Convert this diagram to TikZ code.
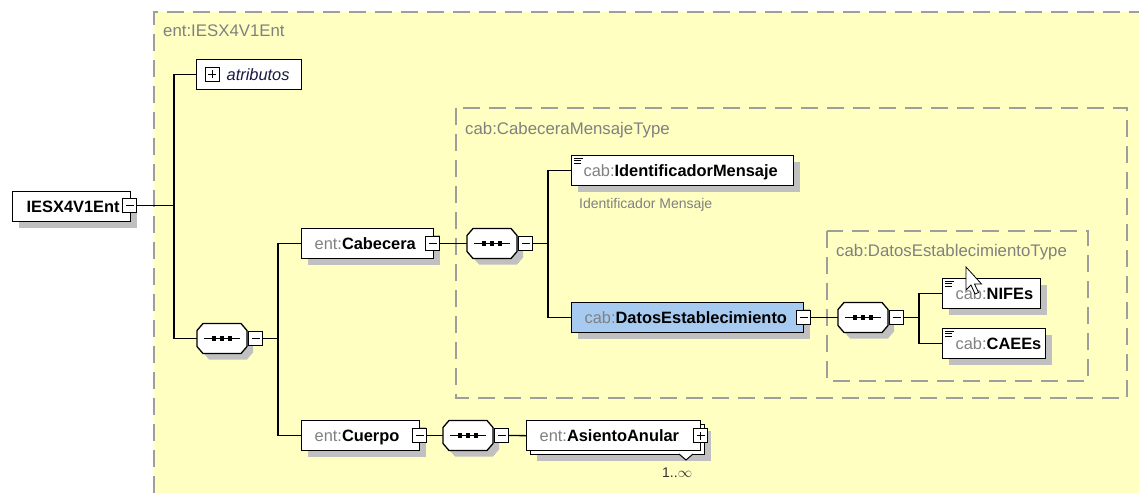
\documentclass[tikz,border=0pt]{standalone}
\usepackage{fontspec}
\setmainfont{Liberation Sans}
\usetikzlibrary{shadows}
\definecolor{bgyellow}{RGB}{255,255,194}
\definecolor{dashgray}{RGB}{158,158,158}
\definecolor{pfxgray}{RGB}{128,128,128}
\definecolor{titlegray}{RGB}{128,128,128}
\definecolor{shadowgray}{RGB}{192,192,192}
\definecolor{selblue}{RGB}{166,202,240}
\definecolor{attrnavy}{RGB}{25,25,70}
\newcommand\pfx[1]{{\color{pfxgray}\mdseries #1}}
\newcommand\elname[2]{\pfx{#1}\textbf{#2}}
\tikzset{
  conn/.style={line width=1.3pt, black},
  dashbox/.style={draw=dashgray, line width=1.3pt, dash pattern=on 17pt off 9pt},
  title/.style={anchor=base west, inner sep=0pt, text=titlegray, font=\fontsize{16.8}{19}\selectfont},
  elemplain/.style={draw=black, line width=1.3pt, fill=white, anchor=north west,
    minimum height=30pt, text height=11.5pt, text depth=0pt, inner ysep=0pt, inner xsep=0pt,
    align=left, font=\fontsize{16.4}{18}\selectfont},
  shadowed/.style={general shadow={fill=shadowgray, shadow xshift=6pt, shadow yshift=-6pt}},
  elem/.style={elemplain, shadowed},
  pmbase/.style={draw=black, line width=1pt, fill=white, minimum size=14pt, inner sep=0pt},
  pm/.style={pmbase,
    path picture={\draw[line width=1pt] ([xshift=3pt]path picture bounding box.west) -- ([xshift=-3pt]path picture bounding box.east);}},
  plus/.style={pmbase, path picture={
    \draw[line width=1pt] ([xshift=3pt]path picture bounding box.west) -- ([xshift=-3pt]path picture bounding box.east);
    \draw[line width=1pt] ([yshift=3pt]path picture bounding box.south) -- ([yshift=-3pt]path picture bounding box.north);}},
  seqbox/.style={rectangle, minimum width=50pt, minimum height=30pt, inner sep=0pt, outer sep=0pt},
  note/.style={anchor=base west, inner sep=0pt, text=pfxgray, font=\fontsize{14}{16}\selectfont},
}
% octagon outline for a sequence compositor, offset #2 right and down
\newcommand\octpath[2]{([xshift=6pt+#2,yshift=-#2]#1.north west) -- ([xshift=-6pt+#2,yshift=-#2]#1.north east)
  -- ([xshift=#2,yshift=-7pt-#2]#1.north east) -- ([xshift=#2,yshift=7pt-#2]#1.south east)
  -- ([xshift=-6pt+#2,yshift=-#2]#1.south east) -- ([xshift=6pt+#2,yshift=-#2]#1.south west)
  -- ([xshift=#2,yshift=7pt-#2]#1.south west) -- ([xshift=#2,yshift=-7pt-#2]#1.north west) -- cycle}
\newcommand\seqdraw[1]{%
  \fill[shadowgray] \octpath{#1}{6pt};
  \draw[line width=1.3pt, fill=white, line join=miter] \octpath{#1}{0pt};
  \draw[line width=1.2pt] ([xshift=-18pt]#1.center) -- ([xshift=18pt]#1.center);
  \foreach \dx in {-8,0,8}{\fill[black] ([xshift=\dx pt]#1.center) ++(-2.4,-2.4) rectangle ++(4.8,4.8);}}
\newcommand\docicon[1]{%
  \draw[line width=0.9pt] ([xshift=3pt,yshift=-3pt]#1.north west) -- ++(9,0);
  \draw[line width=0.9pt] ([xshift=3pt,yshift=-5.5pt]#1.north west) -- ++(7,0);
  \draw[line width=0.9pt] ([xshift=3pt,yshift=-8pt]#1.north west) -- ++(7,0);}
\begin{document}
\begin{tikzpicture}[x=1pt,y=-1pt]
\useasboundingbox (0,0) rectangle (1139,493);
% containers
\fill[bgyellow] (154,12) rectangle (1139,493);
\draw[dashbox] (154,493) -- (154,12) -- (1139,12);
\node[title] (t0) at (163,36) {ent:IESX4V1Ent};
\draw[dashbox] (456,108) rectangle (1127,398);
\node[title] (t1) at (465,134) {cab:CabeceraMensajeType};
\draw[dashbox] (827,231) rectangle (1088,381);
\node[title] (t2) at (836,256) {cab:DatosEstablecimientoType};

% junction coordinates
\coordinate (j1) at (174,205.5);
\coordinate (j2) at (278,338.5);
\coordinate (j3) at (548,243.5);
\coordinate (j4) at (919,317.5);

% nodes
\node[elem, text width=118pt] (root) at (12,191) {\hspace*{14pt}\textbf{IESX4V1Ent}};
\node[pm] (rootm) at (129.5,205.5) {};

\node[elemplain, text width=105pt] (attr) at (196,59) {\hspace*{30pt}{\color{attrnavy}\itshape atributos}};
\node[plus] (attrp) at (212,74) {};

\node[seqbox] (s1) at (222,338.5) {};
\seqdraw{s1}
\node[pm] (s1m) at (255.5,338.5) {};

\node[elem, text width=132pt] (cab) at (301,228) {\hspace*{13pt}\elname{ent:}{Cabecera}};
\node[pm] (cabm) at (432.5,243.5) {};

\node[seqbox] (s2) at (492,243.5) {};
\seqdraw{s2}
\node[pm] (s2m) at (525.5,243.5) {};

\node[elem, text width=222pt] (idm) at (571,155) {\hspace*{12pt}\elname{cab:}{IdentificadorMensaje}};
\node[note] (idmn) at (579,208) {Identificador Mensaje};

\node[elem, fill=selblue, text width=232pt] (dat) at (571,302) {\hspace*{13pt}\elname{cab:}{DatosEstablecimiento}};
\node[pm] (datm) at (803.5,317.5) {};

\node[seqbox] (s3) at (863,317.5) {};
\seqdraw{s3}
\node[pm] (s3m) at (896.5,317.5) {};

\node[elem, text width=98pt] (nif) at (942,278) {\hspace*{13pt}\elname{cab:}{NIFEs}};
\node[elem, text width=103pt] (cae) at (942,328) {\hspace*{13pt}\elname{cab:}{CAEEs}};

\node[elem, text width=118pt] (cue) at (301,420) {\hspace*{13pt}\elname{ent:}{Cuerpo}};
\node[pm] (cuem) at (419.5,435.5) {};

\node[seqbox] (s4) at (468,435.5) {};
\seqdraw{s4}
\node[pm] (s4m) at (501.5,435.5) {};

% multiple element (stacked)
\node[elem, text width=174pt] (asiback) at (530,424) {};
\draw[line width=1pt, fill=white] (679,454) -- (686,460) -- (693,454);
\node[elemplain, text width=174pt] (asi) at (526,420) {\hspace*{13pt}\elname{ent:}{AsientoAnular}};
\node[plus] (asip) at (700.5,435.5) {};
\node[note, text=black!80] (mult) at (662,477) {1..$\infty$};

% doc icons
\docicon{idm}
\docicon{nif}
\docicon{cae}

% connectors
\draw[conn] (rootm.east) -- (j1);
\draw[conn] (attr.west) -| (j1) |- (s1.west);
\draw[conn] (s1m.east) -- (j2);
\draw[conn] (cab.west) -| (j2) |- (cue.west);
\draw[conn] (cabm.east) -- (s2.west);
\draw[conn] (s2m.east) -- (j3);
\draw[conn] (idm.west) -| (j3) |- (dat.west);
\draw[conn] (datm.east) -- (s3.west);
\draw[conn] (s3m.east) -- (j4);
\draw[conn] (nif.west) -| (j4) |- (cae.west);
\draw[conn] (cuem.east) -- (s4.west);
\draw[conn] (s4m.east) -- (asi.west);

% mouse cursor
\draw[line width=0.8pt, fill=white, line join=miter] (966,267) -- (966,290) -- (971,285) -- (975,294) -- (978.5,292.5) -- (974.5,284) -- (981.5,284) -- cycle;
\end{tikzpicture}
\end{document}
